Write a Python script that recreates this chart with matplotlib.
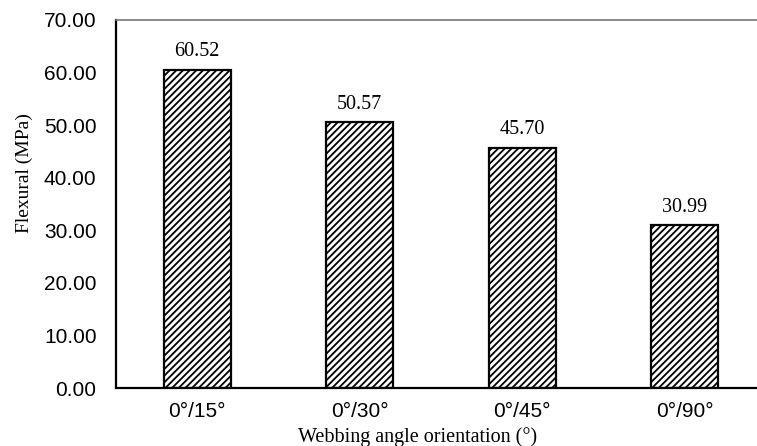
import numpy as np
import matplotlib.pyplot as plt

plt.rcParams['hatch.linewidth'] = 1.3

angulos = ['0°/15°', '0°/30°', '0°/45°', '0°/90°']
flexural = [60.52, 50.57, 45.70, 30.99]
yticks = [0, 10, 20, 30, 40, 50, 60, 70]

fig = plt.figure(figsize=(7.57, 4.46), dpi=100)
ax = fig.add_axes([116/757, 58/446, 650/757, 368/446])

x = np.arange(len(angulos))
barras = ax.bar(x, flexural, width=0.41, color='white', edgecolor='black',
                hatch='/////', linewidth=1.6)

# rotulos por cima das barras
for xi, v in zip(x, flexural):
    ax.annotate(f"{v:.2f}", (xi, v), xytext=(0, 13), textcoords='offset points',
                ha='center', va='center', fontsize=14.5, family='Liberation Serif')

ax.set_xlim(-0.5, 3.5)
ax.set_ylim(0, 70)
ax.set_yticks(yticks)
ax.set_yticklabels([f"{t:.2f}" for t in yticks], fontsize=15, family='Liberation Sans')
ax.set_xticks(x)
ax.set_xticklabels(angulos, fontsize=15, family='Liberation Sans')
ax.tick_params(length=0)
ax.tick_params(axis='x', pad=10)
ax.tick_params(axis='y', pad=14)

fig.text(24/757, 1 - 173/446, 'Flexural (MPa)', rotation=90, ha='center', va='center',
         fontsize=14, family='Liberation Serif')
fig.text(418/757, 1 - 437/446, 'Webbing angle orientation (°)', ha='center', va='center',
         fontsize=14.5, family='Liberation Serif')

ax.spines['right'].set_visible(False)
ax.spines['top'].set_color('#777777')
ax.spines['top'].set_linewidth(1.2)
ax.spines['left'].set_linewidth(1.6)
ax.spines['bottom'].set_linewidth(1.6)

fig.savefig('out.png', dpi=100)
